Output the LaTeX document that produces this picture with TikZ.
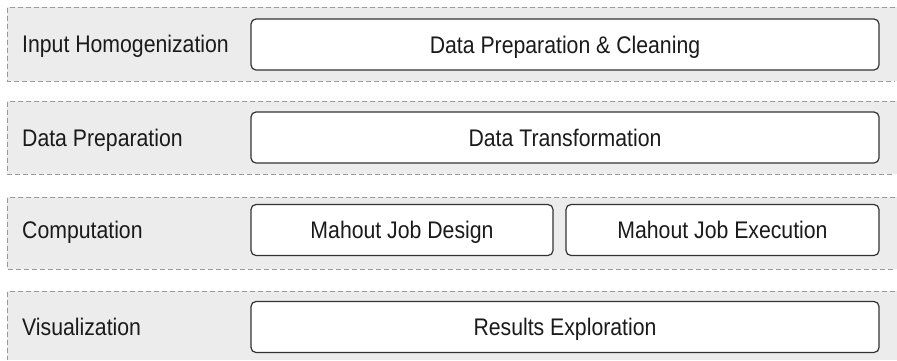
\documentclass[tikz,border=0pt]{standalone}
\usepackage{fontspec}
\setmainfont[FakeStretch=0.885]{Liberation Sans}
\definecolor{bandfill}{HTML}{ECECEC}
\definecolor{dashcol}{HTML}{9A9A9A}
\definecolor{boxline}{HTML}{333333}
\definecolor{txt}{HTML}{1A1A1A}
\tikzset{
  bandline/.style={draw=dashcol, line width=1pt, dash pattern=on 5pt off 3pt},
  stagebox/.style={draw=boxline, fill=white, line width=1.2pt, rounded corners=5pt,
    minimum height=51pt, inner sep=0pt, text height=17pt, text depth=0pt,
    font=\fontsize{24}{26}\selectfont, text=txt},
  lanelabel/.style={anchor=west, inner sep=0pt, text height=17pt, text depth=0pt,
    font=\fontsize{24}{26}\selectfont, text=txt}
}
\begin{document}
\begin{tikzpicture}[x=1pt,y=-1pt]
\useasboundingbox (0,0) rectangle (897,360);
% bands
\fill[bandfill] (7,7) rectangle (897,81);
\fill[bandfill] (7,101) rectangle (897,174);
\fill[bandfill] (7,197) rectangle (897,269);
\fill[bandfill] (7,291) rectangle (897,360);
\draw[bandline] (895,7) -- (7.5,7) -- (7.5,81) -- (895,81);
\draw[bandline] (895,101) -- (7.5,101) -- (7.5,174) -- (895,174);
\draw[bandline] (895,197) -- (7.5,197) -- (7.5,269) -- (895,269);
\draw[bandline] (895,291) -- (7.5,291) -- (7.5,360);
% labels
\node[lanelabel] (l1) at (22,44) {Input Homogenization};
\node[lanelabel] (l2) at (22,137.5) {Data Preparation};
\node[lanelabel] (l3) at (22,230) {Computation};
\node[lanelabel] (l4) at (22,327) {Visualization};
% boxes
\node[stagebox, minimum width=628pt] (b1) at (565,44.5) {Data Preparation \& Cleaning};
\node[stagebox, minimum width=628pt] (b2) at (565,137.5) {Data Transformation};
\node[stagebox, minimum width=302pt] (b3) at (402,230) {Mahout Job Design};
\node[stagebox, minimum width=313pt] (b4) at (722.5,230) {Mahout Job Execution};
\node[stagebox, minimum width=628pt] (b5) at (565,327) {Results Exploration};
\end{tikzpicture}
\end{document}
